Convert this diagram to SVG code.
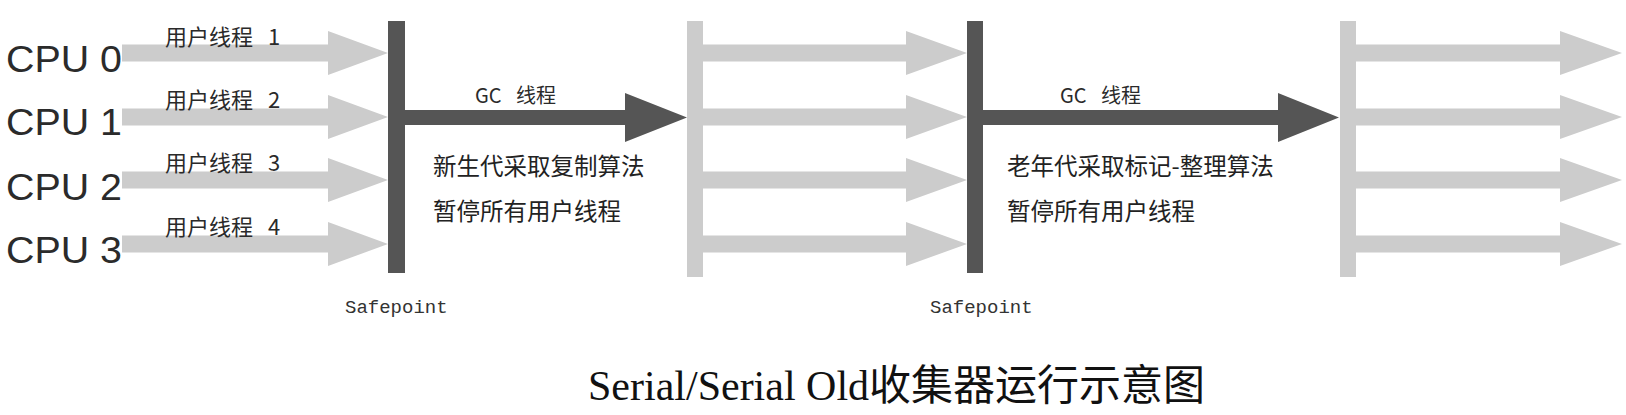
<svg xmlns="http://www.w3.org/2000/svg" width="1626" height="415" viewBox="0 0 1626 415">
<style>
.bg{fill:#ffffff}
.cpu{font-family:"Liberation Sans",Arial,sans-serif;font-size:37px;fill:#2b2b2b}
.ut{font-family:"Noto Sans CJK SC",sans-serif;font-size:22px;fill:#2a2a2a;word-spacing:10px}
.gc{font-family:"Noto Sans CJK SC",sans-serif;font-size:20px;fill:#2a2a2a;word-spacing:10px}
.desc{font-family:"Noto Sans CJK SC",sans-serif;font-size:23.5px;fill:#222222}
.sp{font-family:"Liberation Mono",monospace;font-size:19px;fill:#333333}
.title{font-family:"Liberation Serif","Noto Sans CJK SC",serif;fill:#111111}
.light{fill:#cccccc}
.dark{fill:#555555}
</style>
<rect class="bg" x="0" y="0" width="1626" height="415"/>

<g id="cpu-labels">
  <g id="cpu0"><text class="cpu" x="6" y="72" textLength="116" lengthAdjust="spacingAndGlyphs">CPU 0</text></g>
  <g id="cpu1"><text class="cpu" x="6" y="135" textLength="116" lengthAdjust="spacingAndGlyphs">CPU 1</text></g>
  <g id="cpu2"><text class="cpu" x="6" y="200" textLength="116" lengthAdjust="spacingAndGlyphs">CPU 2</text></g>
  <g id="cpu3"><text class="cpu" x="6" y="263" textLength="116" lengthAdjust="spacingAndGlyphs">CPU 3</text></g>
</g>

<g id="safepoint1">
  <rect class="dark" x="388" y="21" width="17" height="252"/>
  <text class="sp" x="345" y="313">Safepoint</text>
</g>
<g id="resume1">
  <rect class="light" x="687" y="21" width="16" height="256"/>
</g>
<g id="safepoint2">
  <rect class="dark" x="967" y="21" width="16" height="252"/>
  <text class="sp" x="930" y="313">Safepoint</text>
</g>
<g id="resume2">
  <rect class="light" x="1340" y="21" width="16" height="256"/>
</g>

<g id="connectors">
  <!-- section 1 user threads -->
  <path class="light" d="M122,44.5 H328 V31 L388,53 L328,75 V61.5 H122 Z"/>
  <path class="light" d="M122,108.5 H328 V95 L388,117 L328,139 V125.5 H122 Z"/>
  <path class="light" d="M122,171.5 H328 V158 L388,180 L328,202 V188.5 H122 Z"/>
  <path class="light" d="M122,235.5 H328 V222 L388,244 L328,266 V252.5 H122 Z"/>
  <!-- GC thread 1 -->
  <path class="dark" d="M405,110 H625 V93 L687,117.5 L625,142 V125 H405 Z"/>
  <!-- section 2 user threads -->
  <path class="light" d="M703,44.5 H906 V31 L967,53 L906,75 V61.5 H703 Z"/>
  <path class="light" d="M703,108.5 H906 V95 L967,117 L906,139 V125.5 H703 Z"/>
  <path class="light" d="M703,171.5 H906 V158 L967,180 L906,202 V188.5 H703 Z"/>
  <path class="light" d="M703,235.5 H906 V222 L967,244 L906,266 V252.5 H703 Z"/>
  <!-- GC thread 2 -->
  <path class="dark" d="M983,110 H1278 V93 L1339,117.5 L1278,142 V125 H983 Z"/>
  <!-- section 3 user threads -->
  <path class="light" d="M1356,44.5 H1560 V31 L1622,53 L1560,75 V61.5 H1356 Z"/>
  <path class="light" d="M1356,108.5 H1560 V95 L1622,117 L1560,139 V125.5 H1356 Z"/>
  <path class="light" d="M1356,171.5 H1560 V158 L1622,180 L1560,202 V188.5 H1356 Z"/>
  <path class="light" d="M1356,235.5 H1560 V222 L1622,244 L1560,266 V252.5 H1356 Z"/>
</g>

<g id="thread-labels">
  <text class="ut" x="165" y="45">用户线程 1</text>
  <text class="ut" x="165" y="108">用户线程 2</text>
  <text class="ut" x="165" y="171">用户线程 3</text>
  <text class="ut" x="165" y="235">用户线程 4</text>
</g>

<g id="gc1-labels">
  <text class="gc" x="475" y="103">GC 线程</text>
  <text class="desc" x="433" y="175">新生代采取复制算法</text>
  <text class="desc" x="433" y="220">暂停所有用户线程</text>
</g>
<g id="gc2-labels">
  <text class="gc" x="1060" y="103">GC 线程</text>
  <text class="desc" x="1007" y="175">老年代采取标记-整理算法</text>
  <text class="desc" x="1007" y="220">暂停所有用户线程</text>
</g>

<g id="caption">
  <text class="title" x="588" y="400"><tspan font-size="42">Serial/Serial Old</tspan><tspan font-family="Noto Sans CJK SC, sans-serif" font-size="42">收集器运行示意图</tspan></text>
</g>
</svg>
